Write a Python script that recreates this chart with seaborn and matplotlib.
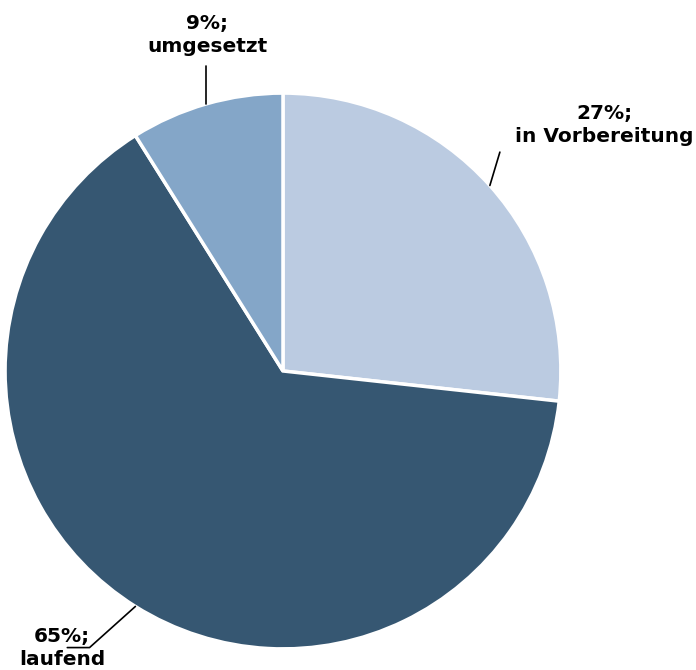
import numpy as np
import matplotlib
matplotlib.use("Agg")
import matplotlib.pyplot as plt
import seaborn as sns

categories = ["in Vorbereitung", "laufend", "umgesetzt"]
shares = [27, 65, 9]
colors = ["#BBCBE1", "#365772", "#84A6C8"]

# label block offsets (from wedge edge) in radius units: dx, dy of the leader end, text centre
leader_ends = [(0.036, 0.12), (-0.165, -0.148), (0.0, 0.137)]
text_centres = [(1.155, 0.885), (-0.795, -0.997), (-0.273, 1.209)]

sns.set_theme(style="white")
plt.rcParams["font.family"] = ["DejaVu Sans"]

fig = plt.figure(figsize=(6.96, 6.70), dpi=100)
ax = fig.add_axes([0, 0, 1, 1])

wedges, _ = ax.pie(shares, colors=sns.color_palette(colors), startangle=90,
                   counterclock=False, radius=1.0,
                   wedgeprops=dict(edgecolor="white", linewidth=2.5))
ax.set_xlim(-1.018, 1.486)
ax.set_ylim(-1.076, 1.335)
ax.set_aspect("equal")
ax.axis("off")

for w, name, share, (ldx, ldy), (tx, ty) in zip(wedges, categories, shares,
                                                leader_ends, text_centres):
    mid = np.deg2rad((w.theta1 + w.theta2) / 2)
    x0, y0 = np.cos(mid), np.sin(mid)
    x1, y1 = x0 + ldx, y0 + ldy
    if name == "laufend":
        ax.plot([x0, x1, x1 - 0.08], [y0, y1, y1], color="black", lw=1.2)
    else:
        ax.plot([x0, x1], [y0, y1], color="black", lw=1.2)
    ax.text(tx, ty, f"{share}%;\n{name}", ha="center", va="center",
            fontsize=14.5, fontweight="bold", color="black", linespacing=1.25)

fig.savefig("out.png", dpi=100)
